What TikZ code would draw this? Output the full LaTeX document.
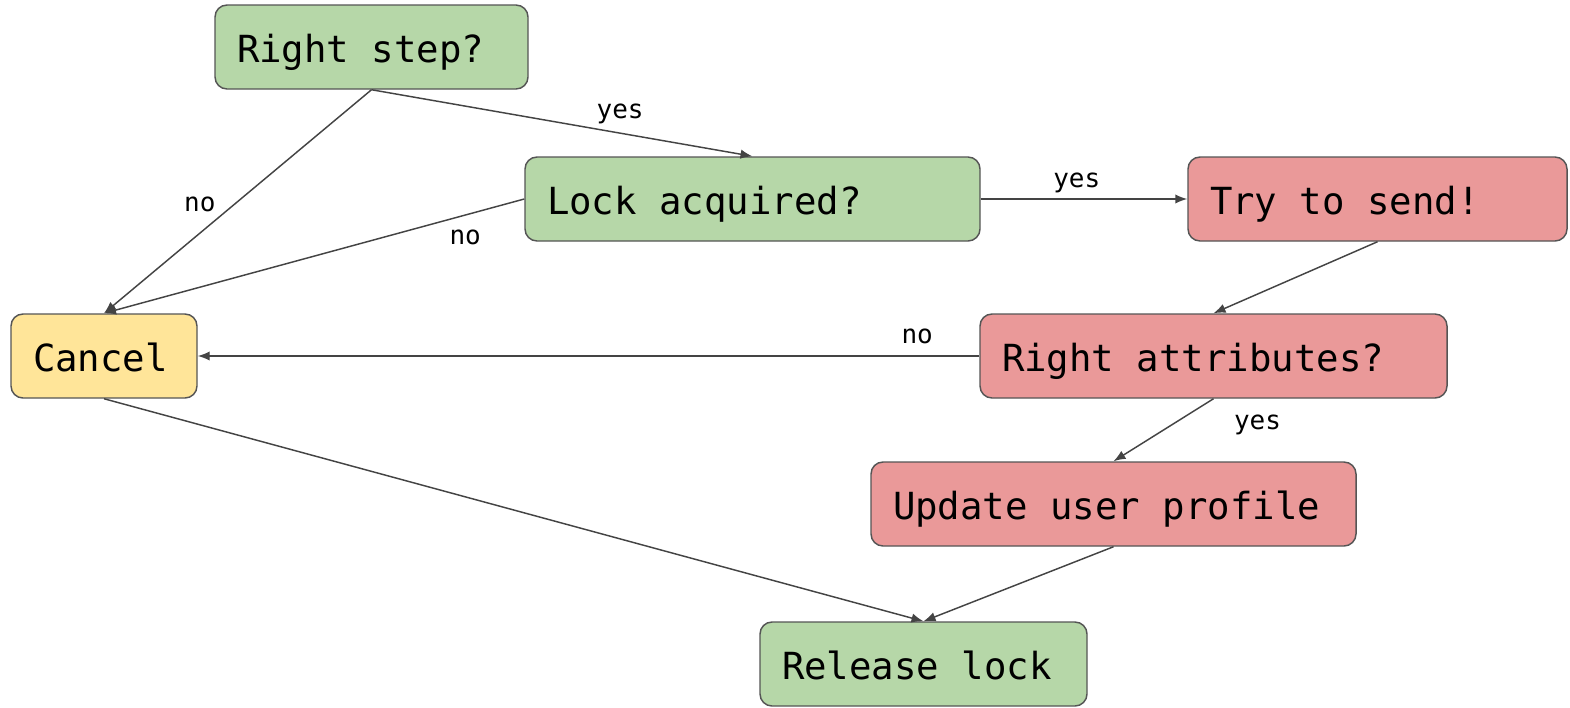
\documentclass[tikz,border=0pt]{standalone}
\usepackage{fontspec}
\usetikzlibrary{arrows.meta}
\newfontfamily\codefont{DejaVu Sans Mono}
% full-width, rigid word spaces for the box text
\newcommand{\boxfont}{\codefont\fontsize{28}{32}\selectfont
  \spaceskip=0.602em\relax\xspaceskip=0.602em\relax}
\definecolor{okgreen}{HTML}{B6D7A8}
\definecolor{sendred}{HTML}{EA9999}
\definecolor{stopyellow}{HTML}{FFE599}
\definecolor{edgegray}{HTML}{444444}
\definecolor{boxline}{HTML}{555555}

\begin{document}
\begin{tikzpicture}[x=0.75pt, y=-0.75pt, >={Latex[length=9pt, width=7pt]}]
    \tikzstyle{boxed}=[draw=boxline, line width=1.1pt, rounded corners=9pt,
      minimum height=63pt, inner xsep=16.5pt, text height=26.5pt, text depth=3.5pt,
      align=left, font=\boxfont,
      execute at begin node={\spaceskip=0.602em\relax\xspaceskip=0.602em\relax}]
    \tikzstyle{lbl}=[font=\codefont\fontsize{19.5}{23}\selectfont, inner sep=0pt]
    \tikzstyle{flow}=[->, draw=edgegray, line width=1.1pt]
    \useasboundingbox (0,0) rectangle (1570,707);
    % boxes, text width = box width - 2*inner xsep
    \node[boxed, fill=okgreen, text width=201.75pt] (step) at (371.5,47) {Right step?};
    \node[boxed, fill=okgreen, text width=308.25pt] (lock) at (752.5,199) {Lock acquired?};
    \node[boxed, fill=sendred, text width=251.25pt] (try) at (1377.5,199) {Try to send!};
    \node[boxed, fill=stopyellow, text width=106.5pt] (cancel) at (104,356) {Cancel};
    \node[boxed, fill=sendred, text width=317.25pt] (attr) at (1213.5,356) {Right attributes?};
    \node[boxed, fill=sendred, text width=330.75pt] (update) at (1113.5,504) {Update user profile};
    \node[boxed, fill=okgreen, text width=212.25pt] (release) at (923.5,664) {Release lock};
    % arrows
    \draw[flow] (step.south) -- (lock.north)
        node[lbl, pos=0.65, shift={(1,-19)}] (yes1) {yes};
    \draw[flow] (step.south) -- (cancel.north)
        node[lbl, pos=0.5, shift={(-38,2.5)}] (no1) {no};
    \draw[flow] (lock.west) -- (cancel.north)
        node[lbl, pos=0.15, shift={(4,21)}] (no2) {no};
    \draw[flow] (lock.east) -- (try.west)
        node[lbl, pos=0.46, shift={(1,-16)}] (yes2) {yes};
    \draw[flow] (try.south) -- (attr.north);
    \draw[flow] (attr.west) -- (cancel.east)
        node[lbl, pos=0.082, shift={(2,-20)}] (no3) {no};
    \draw[flow] (attr.south) -- (update.north)
        node[lbl, pos=0.35, shift={(79,4.5)}] (yes3) {yes};
    \draw[flow] (update.south) -- (release.north);
    \draw[flow] (cancel.south) -- (release.north);
\end{tikzpicture}
\end{document}
